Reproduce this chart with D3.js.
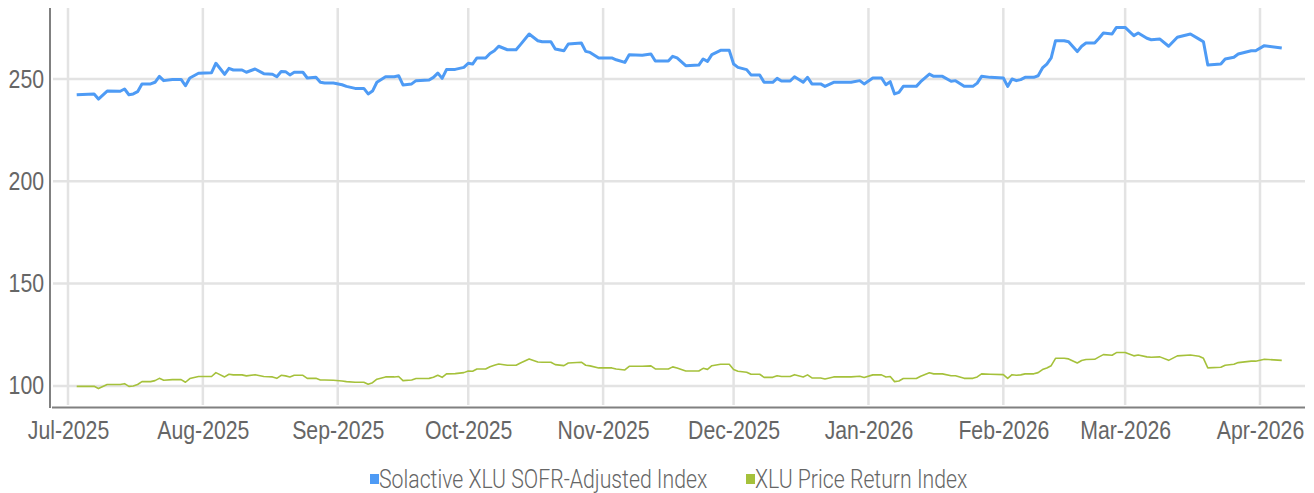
<!DOCTYPE html>
<html>
<head>
<meta charset="utf-8">
<script src="https://cdn.jsdelivr.net/npm/d3@7"></script>
<style>
  html, body { margin: 0; padding: 0; background: #fff; }
  svg { display: block; font-family: Roboto, "Noto Sans", sans-serif; font-weight: 300; }
</style>
</head>
<body>
<div id="chart"></div>
<script>
// Trading-day points (both indices share the dates)
const dates = [
  '2025-07-03','2025-07-07','2025-07-08','2025-07-10','2025-07-13','2025-07-14','2025-07-15','2025-07-16','2025-07-17','2025-07-18',
  '2025-07-20','2025-07-21','2025-07-22','2025-07-23','2025-07-25','2025-07-27','2025-07-28','2025-07-29','2025-07-31','2025-08-03',
  '2025-08-04','2025-08-06','2025-08-07','2025-08-08','2025-08-10','2025-08-11','2025-08-13','2025-08-15','2025-08-17','2025-08-18',
  '2025-08-19','2025-08-20','2025-08-21','2025-08-22','2025-08-24','2025-08-25','2025-08-27','2025-08-28','2025-08-29','2025-08-31',
  '2025-09-02','2025-09-03','2025-09-05','2025-09-07','2025-09-08','2025-09-09','2025-09-10','2025-09-12','2025-09-14','2025-09-15',
  '2025-09-16','2025-09-18','2025-09-19','2025-09-22','2025-09-23','2025-09-24','2025-09-25','2025-09-26','2025-09-28','2025-09-30',
  '2025-10-01','2025-10-02','2025-10-03','2025-10-05','2025-10-06','2025-10-07','2025-10-08','2025-10-10','2025-10-12','2025-10-13',
  '2025-10-15','2025-10-17','2025-10-18','2025-10-20','2025-10-21','2025-10-23','2025-10-24','2025-10-27','2025-10-28','2025-10-29',
  '2025-10-31','2025-11-03','2025-11-04','2025-11-06','2025-11-07','2025-11-10','2025-11-12','2025-11-13','2025-11-16','2025-11-17',
  '2025-11-18','2025-11-20','2025-11-23','2025-11-24','2025-11-25','2025-11-26','2025-11-28','2025-11-30','2025-12-01','2025-12-02',
  '2025-12-04','2025-12-05','2025-12-07','2025-12-08','2025-12-10','2025-12-11','2025-12-12','2025-12-14','2025-12-15','2025-12-17',
  '2025-12-18','2025-12-19','2025-12-21','2025-12-22','2025-12-24','2025-12-28','2025-12-30','2025-12-31','2026-01-02','2026-01-04',
  '2026-01-05','2026-01-06','2026-01-07','2026-01-08','2026-01-09','2026-01-12','2026-01-13','2026-01-15','2026-01-16','2026-01-18',
  '2026-01-20','2026-01-21','2026-01-23','2026-01-25','2026-01-26','2026-01-27','2026-01-29','2026-02-01','2026-02-02','2026-02-03',
  '2026-02-04','2026-02-05','2026-02-06','2026-02-08','2026-02-09','2026-02-10','2026-02-11','2026-02-12','2026-02-13','2026-02-15',
  '2026-02-16','2026-02-18','2026-02-19','2026-02-20','2026-02-22','2026-02-23','2026-02-24','2026-02-26','2026-02-27','2026-03-01',
  '2026-03-03','2026-03-04','2026-03-06','2026-03-07','2026-03-09','2026-03-11','2026-03-13','2026-03-16','2026-03-18','2026-03-19',
  '2026-03-20','2026-03-23','2026-03-24','2026-03-26','2026-03-27','2026-03-30','2026-03-31','2026-04-02','2026-04-06'
]

const sofrAdjusted = [
  242.3,242.7,240.2,244.1,244.0,245.1,242.3,242.7,243.8,247.6,
  247.6,248.4,251.3,249.2,249.8,249.8,246.7,250.5,252.8,253.1,
  257.7,252.3,255.2,254.4,254.4,253.3,254.9,252.6,252.3,251.1,
  253.7,253.6,252.0,253.3,253.3,250.5,250.8,248.4,248.0,248.0,
  247.2,246.4,245.4,245.4,242.7,244.1,248.4,251.1,251.1,251.6,
  247.1,247.6,249.2,249.5,250.8,252.9,250.3,254.6,254.7,255.7,
  257.7,257.3,260.3,260.3,262.5,263.8,266.0,264.3,264.3,266.8,
  272.0,268.7,268.2,268.2,264.7,263.8,267.1,267.6,263.5,263.0,
  260.3,260.3,259.4,258.1,261.9,261.6,262.2,258.8,258.8,261.1,
  260.3,256.5,256.8,259.8,258.6,261.9,264.0,264.0,257.3,255.7,
  254.6,252.0,252.0,248.4,248.4,250.3,249.0,249.0,251.1,248.4,
  250.8,247.6,247.6,246.4,248.4,248.4,249.2,247.6,250.5,250.5,
  247.2,248.7,242.7,243.5,246.4,246.4,248.7,252.4,251.3,251.3,
  248.9,249.2,246.4,246.4,248.0,251.3,250.8,250.5,246.4,250.0,
  249.2,249.7,250.8,250.8,251.6,255.4,257.3,260.3,268.7,268.7,
  268.2,263.4,266.0,267.6,267.6,269.9,272.5,272.0,275.2,275.2,
  271.2,272.5,269.9,269.2,269.5,266.0,270.4,272.0,269.5,268.2,
  256.8,257.3,259.8,260.6,262.2,263.8,263.8,266.3,265.1
]

const priceReturn = [
  99.8,99.8,98.7,100.7,100.7,101.1,99.8,100.0,100.7,102.1,
  102.1,102.6,103.7,102.8,103.1,103.1,101.8,103.6,104.6,104.6,
  106.5,104.4,105.7,105.4,105.4,104.9,105.5,104.6,104.4,103.7,
  105.2,104.9,104.4,105.2,105.2,103.7,103.7,102.9,102.9,102.8,
  102.4,102.1,101.8,101.8,100.8,101.6,103.3,104.4,104.4,104.6,
  102.6,102.9,103.6,103.7,104.2,105.2,104.2,105.9,106.0,106.5,
  107.3,107.2,108.3,108.3,109.4,110.1,110.7,110.1,110.1,111.2,
  113.2,111.7,111.6,111.6,110.4,109.9,111.2,111.6,110.1,109.8,
  108.8,108.8,108.3,107.8,109.6,109.6,109.8,108.3,108.3,109.3,
  108.8,107.3,107.3,108.6,108.1,109.9,110.6,110.6,108.0,107.2,
  106.7,105.7,105.7,104.2,104.2,105.0,104.6,104.6,105.5,104.4,
  105.4,103.9,103.9,103.4,104.4,104.4,104.7,104.1,105.4,105.4,
  104.4,104.6,102.1,102.4,103.6,103.6,104.7,106.4,105.9,105.9,
  105.0,105.0,103.7,103.7,104.4,105.9,105.7,105.5,103.7,105.5,
  105.2,105.4,105.9,105.9,106.5,108.0,108.8,109.9,113.5,113.5,
  113.2,111.2,112.4,112.9,113.0,114.2,115.3,115.0,116.3,116.3,
  114.7,115.1,114.2,114.0,114.2,112.5,114.7,115.1,114.5,113.5,
  108.8,109.1,110.1,110.6,111.4,112.1,112.1,113.0,112.5
]

const seriesNames = ['Solactive XLU SOFR-Adjusted Index', 'XLU Price Return Index']
const seriesColors = ['#4e9bf5', '#a5c13b']
const yTicks = [100, 150, 200, 250]

const width = 1314
const height = 493
const plot = { left: 52, right: 1305, top: 8, bottom: 407 }
const FONT_COLOR = '#666666'
const FONT_SIZE = '25px'
const SQUEEZE = 'scale(0.85,1)'   // stand-in for the condensed face of the original

const parse = d3.utcParse('%Y-%m-%d')
const points = dates.map((d, i) => ({ date: parse(d), a: sofrAdjusted[i], b: priceReturn[i] }))

const svg = d3.select('#chart').append('svg')
  .attr('width', width).attr('height', height)

// month gridlines sit at 68px (Jul 1) and 1260px (Apr 1)
const x = d3.scaleUtc()
  .domain([parse('2025-07-01'), parse('2026-04-01')])
  .range([68, 1260])

const y = d3.scaleLinear()
  .domain([89.7, 284.7])
  .range([plot.bottom, plot.top])

const months = d3.utcMonth.range(parse('2025-07-01'), parse('2026-04-02'))

// Gridlines
svg.append('g').attr('class', 'grid-x')
  .selectAll('line').data(months).join('line')
  .attr('x1', d => x(d)).attr('x2', d => x(d))
  .attr('y1', plot.top).attr('y2', plot.bottom - 2)
  .attr('stroke', '#e3e3e3').attr('stroke-width', 2.5)

svg.append('g').attr('class', 'grid-y')
  .selectAll('line').data(yTicks).join('line')
  .attr('x1', plot.left + 1).attr('x2', plot.right)
  .attr('y1', d => y(d)).attr('y2', d => y(d))
  .attr('stroke', '#e3e3e3').attr('stroke-width', 2.5)

// Axis lines
svg.append('line')
  .attr('x1', 50).attr('x2', 50)
  .attr('y1', plot.top).attr('y2', plot.bottom + 1)
  .attr('stroke', '#808080').attr('stroke-width', 2)
svg.append('line')
  .attr('x1', plot.left).attr('x2', plot.right)
  .attr('y1', plot.bottom + 0.5).attr('y2', plot.bottom + 0.5)
  .attr('stroke', '#808080').attr('stroke-width', 2)

// Y axis labels
svg.append('g')
  .attr('transform', 'translate(44,0)')
  .call(d3.axisLeft(y).tickValues(yTicks).tickSize(0).tickPadding(0))
  .call(g => {
    g.select('.domain').remove()
    g.selectAll('.tick text')
      .attr('x', 0)
      .attr('transform', SQUEEZE)
      .attr('fill', FONT_COLOR).attr('font-size', FONT_SIZE)
      .attr('font-family', null)
  })

// X axis labels
svg.append('g')
  .attr('transform', `translate(0,${plot.bottom})`)
  .call(d3.axisBottom(x).tickValues(months).tickSize(0).tickPadding(14)
    .tickFormat(d3.utcFormat('%b-%Y')))
  .call(g => {
    g.select('.domain').remove()
    g.selectAll('.tick text')
      .attr('transform', SQUEEZE)
      .attr('fill', FONT_COLOR).attr('font-size', FONT_SIZE)
      .attr('font-family', null)
  })

// Lines
const lineA = d3.line().x(d => x(d.date)).y(d => y(d.a))
const lineB = d3.line().x(d => x(d.date)).y(d => y(d.b))

svg.append('path').datum(points)
  .attr('d', lineB)
  .attr('fill', 'none').attr('stroke', seriesColors[1])
  .attr('stroke-width', 1.6).attr('stroke-linejoin', 'round')

svg.append('path').datum(points)
  .attr('d', lineA)
  .attr('fill', 'none').attr('stroke', seriesColors[0])
  .attr('stroke-width', 3).attr('stroke-linejoin', 'round')

// Legend
const legendX = [370, 746]
seriesNames.forEach((name, i) => {
  const item = svg.append('g').attr('transform', `translate(${legendX[i]},479)`)
  item.append('rect')
    .attr('x', 0).attr('y', -5)
    .attr('width', 9).attr('height', 10)
    .attr('fill', seriesColors[i])
  item.append('g').attr('transform', `translate(9,0) ${SQUEEZE}`)
    .append('text')
    .attr('dy', '0.35em')
    .attr('fill', FONT_COLOR).attr('font-size', FONT_SIZE)
    .text(name)
})
</script>
</body>
</html>
